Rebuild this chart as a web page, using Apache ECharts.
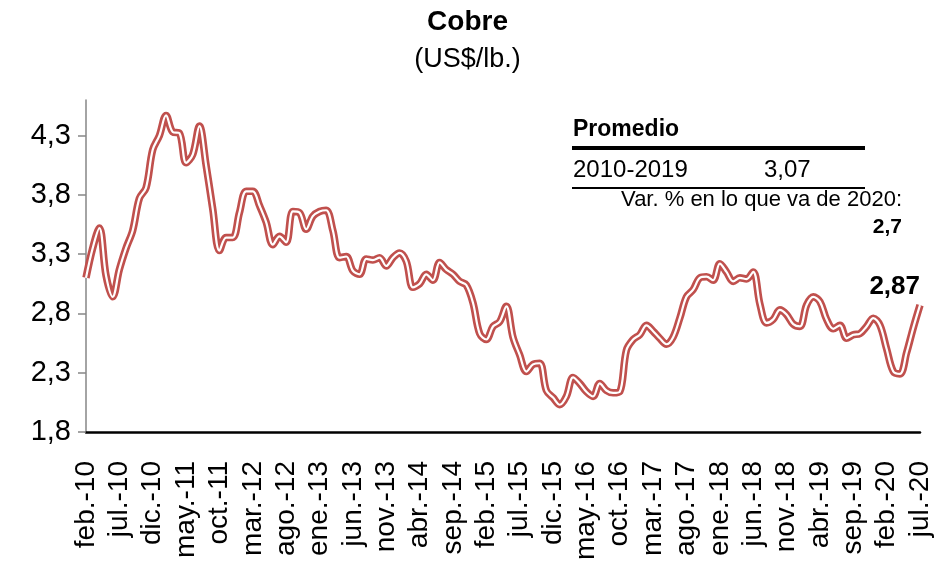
<!DOCTYPE html>
<html>
<head>
<meta charset="utf-8">
<script src="https://cdn.jsdelivr.net/npm/echarts@6/dist/echarts.min.js"></script>
<style>
  html, body { margin: 0; padding: 0; background: #fff; }
  #chart { width: 935px; height: 575px; }
</style>
</head>
<body>
<div id="chart"></div>
<script>
// Copper price, monthly, feb-10 .. jul-20 (US$/lb)
const monthNames = ['ene.', 'feb.', 'mar.', 'abr.', 'may.', 'jun.', 'jul.', 'ago.', 'sep.', 'oct.', 'nov.', 'dic.'];
const startYear = 2010, startMonth = 1; // feb
const prices = [
  3.10, 3.35, 3.52, 3.12, 2.94, 3.17, 3.35, 3.50, 3.77, 3.86, 4.18,
  4.30, 4.47, 4.33, 4.32, 4.07, 4.14, 4.38, 4.05, 3.68, 3.33, 3.44, 3.44,
  3.65, 3.83, 3.83, 3.71, 3.57, 3.38, 3.45, 3.40, 3.66, 3.65, 3.51, 3.62,
  3.66, 3.67, 3.50, 3.27, 3.28, 3.16, 3.13, 3.26, 3.25, 3.27, 3.20, 3.27,
  3.31, 3.24, 3.02, 3.05, 3.13, 3.08, 3.23, 3.17, 3.13, 3.07, 3.04, 2.89,
  2.63, 2.58, 2.69, 2.73, 2.86, 2.60, 2.45, 2.31, 2.37, 2.38, 2.15, 2.09,
  2.03, 2.10, 2.26, 2.21, 2.14, 2.10, 2.21, 2.15, 2.13, 2.14, 2.49, 2.58,
  2.62, 2.70, 2.65, 2.59, 2.54, 2.60, 2.76, 2.94, 3.00, 3.10, 3.11, 3.08,
  3.22, 3.15, 3.07, 3.10, 3.09, 3.15, 2.88, 2.72, 2.75, 2.83, 2.79, 2.71,
  2.69, 2.87, 2.94, 2.90, 2.75, 2.67, 2.70, 2.59, 2.62, 2.63, 2.69, 2.76,
  2.70, 2.50, 2.31, 2.29, 2.47, 2.68, 2.87
];
const yTicks = [1.8, 2.3, 2.8, 3.3, 3.8, 4.3];
const promedio = 3.07;       // 2010-2019 average
const varYTD = 2.7;          // % change so far in 2020

const months = prices.map((_, i) => {
  const m = (startMonth + i) % 12;
  const y = startYear + Math.floor((startMonth + i) / 12);
  return monthNames[m] + '-' + String(y).slice(2);
});

const comma = (v, d) => v.toFixed(d).replace('.', ',');
const FONT = "'Liberation Sans', Arial, sans-serif";
const RED = '#C0504D';

const chart = echarts.init(document.getElementById('chart'));

chart.setOption({
  animation: false,
  textStyle: { fontFamily: FONT, color: '#000' },
  title: [
    { text: 'Cobre', left: 'center', top: 3,
      textStyle: { fontFamily: FONT, fontSize: 28, fontWeight: 'bold', color: '#000' } },
    { text: '(US$/lb.)', left: 'center', top: 41,
      textStyle: { fontFamily: FONT, fontSize: 27, fontWeight: 'normal', color: '#000' } }
  ],
  grid: { left: 86, right: 15, top: 100, bottom: 143 },
  xAxis: {
    type: 'category',
    data: months,
    boundaryGap: false,
    axisLine: { lineStyle: { color: '#000', width: 2.5 } },
    axisTick: { show: false },
    axisLabel: {
      interval: 4,
      rotate: 90,
      margin: 29,
      fontSize: 28,
      color: '#000',
      fontFamily: FONT
    },
    splitLine: { show: false }
  },
  yAxis: {
    type: 'value',
    min: 1.8,
    max: 4.6,
    axisLine: { show: true, lineStyle: { color: '#868686', width: 1.5 } },
    axisTick: { show: true, length: 8, customValues: yTicks, lineStyle: { color: '#868686', width: 1.5 } },
    axisLabel: {
      customValues: yTicks,
      formatter: v => comma(v, 1),
      fontSize: 29,
      margin: 15,
      color: '#000',
      fontFamily: FONT
    },
    splitLine: { show: false }
  },
  series: [
    {
      name: 'Cobre',
      type: 'line',
      smooth: 0.35,
      symbol: 'none',
      lineStyle: { color: RED, width: 7.5 },
      data: prices,
      endLabel: {
        show: true,
        formatter: p => comma(p.value, 2),
        align: 'right',
        verticalAlign: 'bottom',
        distance: 0,
        offset: [0, -5],
        fontFamily: FONT,
        fontSize: 26,
        fontWeight: 'bold',
        color: '#000'
      },
      z: 2
    },
    {
      name: 'inner',
      type: 'line',
      smooth: 0.35,
      symbol: 'none',
      silent: true,
      lineStyle: { color: '#fff', width: 2.2 },
      data: prices,
      z: 3
    }
  ],
  graphic: [
    { type: 'text', left: 573, top: 118,
      style: { text: 'Promedio', font: 'bold 23px ' + FONT, fill: '#000' } },
    { type: 'line', shape: { x1: 572, y1: 148, x2: 865, y2: 148 },
      style: { stroke: '#000', lineWidth: 4 } },
    { type: 'text', left: 573, top: 158,
      style: { text: '2010-2019', font: '24px ' + FONT, fill: '#000' } },
    { type: 'text', left: 764, top: 158,
      style: { text: comma(promedio, 2), font: '24px ' + FONT, fill: '#000' } },
    { type: 'line', shape: { x1: 572, y1: 188, x2: 865, y2: 188 },
      style: { stroke: '#000', lineWidth: 2 } },
    { type: 'text', right: 33, top: 189,
      style: { text: 'Var. % en lo que va de 2020:', font: '22px ' + FONT, fill: '#000' } },
    { type: 'text', right: 33, top: 217,
      style: { text: comma(varYTD, 1), font: 'bold 21px ' + FONT, fill: '#000' } }
  ]
});
</script>
</body>
</html>
